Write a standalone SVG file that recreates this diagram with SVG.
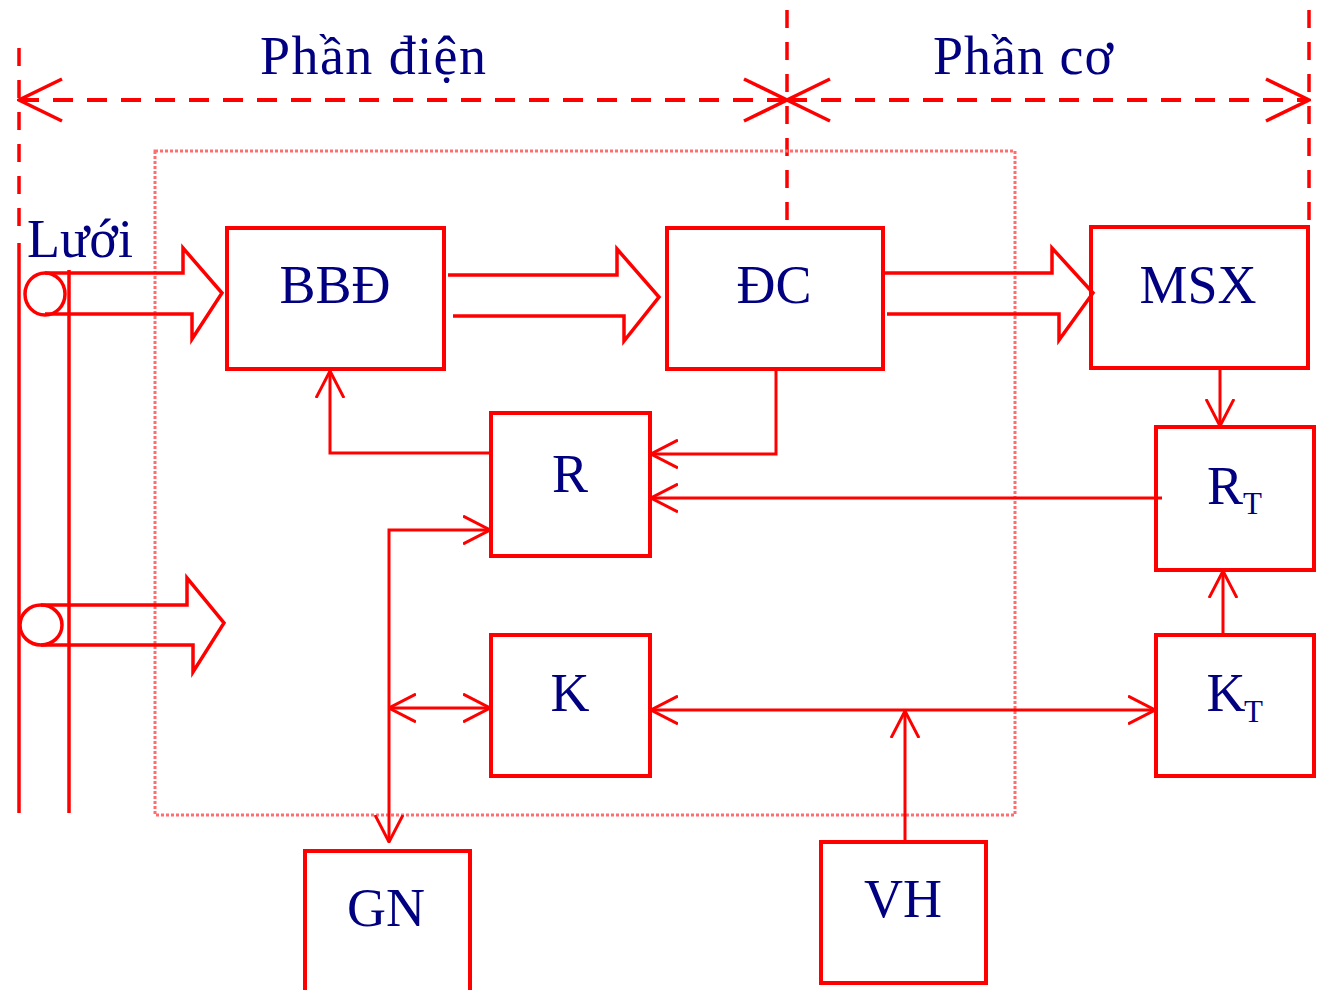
<svg xmlns="http://www.w3.org/2000/svg" width="1318" height="990" viewBox="0 0 1318 990">
<style>
.box{fill:none;stroke:#ff0000;stroke-width:4}
.lbl{font-family:"Liberation Serif","Times New Roman",serif;font-size:54px;fill:#000080;text-anchor:middle}
.sub{font-family:"Liberation Serif","Times New Roman",serif;font-size:31px;fill:#000080}
.con{fill:none;stroke:#ff0000;stroke-width:3}
.blk{fill:none;stroke:#ff0000;stroke-width:3.5;stroke-linejoin:miter}
.scale{fill:none;stroke:#ff0000;stroke-width:4;stroke-dasharray:20 14}
.vdash{fill:none;stroke:#ff0000;stroke-width:3.5;stroke-dasharray:18 14}
.bound{fill:none;stroke:#ff6e6e;stroke-width:3;stroke-dasharray:3 2}
</style>
<defs>
<marker id="ah" viewBox="0 0 28 30" refX="27" refY="15" markerWidth="28" markerHeight="30" markerUnits="userSpaceOnUse" orient="auto-start-reverse">
<path d="M0,1 L27,15 L0,29" fill="none" stroke="#ff0000" stroke-width="3"/>
</marker>
<marker id="sh" viewBox="0 0 46 46" refX="44" refY="23" markerWidth="46" markerHeight="46" markerUnits="userSpaceOnUse" orient="auto-start-reverse">
<path d="M1,2 L44,23 L1,44" fill="none" stroke="#ff0000" stroke-width="3.5"/>
</marker>
</defs>
<rect width="1318" height="990" fill="#ffffff"/>

<g id="scale">
<line class="vdash" x1="19" y1="48" x2="19" y2="235"/>
<line class="vdash" x1="787" y1="10" x2="787" y2="226"/>
<line class="vdash" x1="1309" y1="10" x2="1309" y2="226"/>
<line class="scale" x1="19" y1="100" x2="787" y2="100" marker-start="url(#sh)" marker-end="url(#sh)"/>
<line class="scale" x1="787" y1="100" x2="1309" y2="100" marker-start="url(#sh)" marker-end="url(#sh)"/>
<text class="lbl" x="373" y="74" textLength="226" lengthAdjust="spacing">Phần điện</text>
<text class="lbl" x="1023" y="74" textLength="180" lengthAdjust="spacing">Phần cơ</text>
</g>

<g id="boundary">
<rect class="bound" x="155" y="151" width="860" height="664"/>
</g>

<g id="luoi">
<line x1="19" y1="243" x2="19" y2="813" stroke="#ff0000" stroke-width="3.5"/>
<line x1="69" y1="270" x2="69" y2="813" stroke="#ff0000" stroke-width="3.5"/>
<ellipse cx="45" cy="294" rx="20" ry="21" fill="none" stroke="#ff0000" stroke-width="3.5"/>
<ellipse cx="41" cy="625" rx="21" ry="20" fill="none" stroke="#ff0000" stroke-width="3.5"/>
<text class="lbl" x="80" y="257">Lưới</text>
</g>

<g id="BBD">
<rect class="box" x="227" y="228" width="217" height="141"/>
<text class="lbl" x="335" y="303">BBĐ</text>
</g>
<g id="DC">
<rect class="box" x="667" y="228" width="216" height="141"/>
<text class="lbl" x="774" y="303">ĐC</text>
</g>
<g id="MSX">
<rect class="box" x="1091" y="227" width="217" height="141"/>
<text class="lbl" x="1198" y="303">MSX</text>
</g>
<g id="R">
<rect class="box" x="491" y="413" width="159" height="143"/>
<text class="lbl" x="570" y="492">R</text>
</g>
<g id="K">
<rect class="box" x="491" y="635" width="159" height="141"/>
<text class="lbl" x="570" y="711">K</text>
</g>
<g id="RT">
<rect class="box" x="1156" y="427" width="158" height="143"/>
<text class="lbl" x="1225" y="504">R</text>
<text class="sub" x="1243" y="514">T</text>
</g>
<g id="KT">
<rect class="box" x="1156" y="635" width="158" height="141"/>
<text class="lbl" x="1226" y="711">K</text>
<text class="sub" x="1244" y="722">T</text>
</g>
<g id="VH">
<rect class="box" x="821" y="842" width="165" height="141"/>
<text class="lbl" x="903" y="917">VH</text>
</g>
<g id="GN">
<rect class="box" x="305" y="851" width="165" height="150"/>
<text class="lbl" x="386" y="926">GN</text>
</g>

<g id="connectors">
<path class="blk" d="M45,273 H183 V248 L222,293 L192,339 V314 H45"/>
<path class="blk" d="M41,605 H187 V578 L224,623 L193,672 V645 H41"/>
<path class="blk" d="M448,275 H617 V249 L659,297 L624,341 V316 H453"/>
<path class="blk" d="M883,273 H1052 V248 L1093,293 L1059,340 V314 H887"/>
<path class="con" d="M491,453 H330 V371" marker-end="url(#ah)"/>
<path class="con" d="M776,370 V454 H651" marker-end="url(#ah)"/>
<path class="con" d="M1162,498 H651" marker-end="url(#ah)"/>
<path class="con" d="M389,842 V530 H490" marker-start="url(#ah)" marker-end="url(#ah)"/>
<path class="con" d="M389,708 H490" marker-start="url(#ah)" marker-end="url(#ah)"/>
<path class="con" d="M651,710 H1155" marker-start="url(#ah)" marker-end="url(#ah)"/>
<path class="con" d="M905,842 V711" marker-end="url(#ah)"/>
<path class="con" d="M1220,368 V426" marker-end="url(#ah)"/>
<path class="con" d="M1223,635 V571" marker-end="url(#ah)"/>
</g>
</svg>
